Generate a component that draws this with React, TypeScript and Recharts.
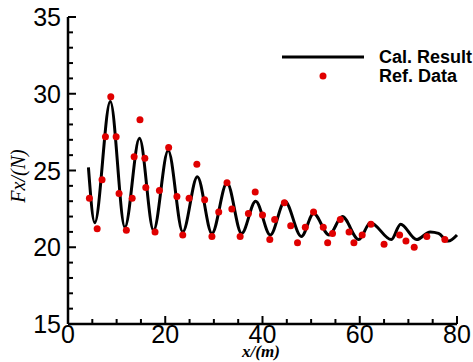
import React from 'react';
import { ComposedChart, Line, Scatter, XAxis, YAxis, Legend, ReferenceLine } from 'recharts';

// Cal. Result curve (x in m, Fx in N), read at the turning points
const calX = [4.2, 5.5, 8.7, 11.7, 14.7, 17.6, 20.6, 23.6, 26.6, 29.6, 32.7, 35.7, 38.6, 41.6, 44.6, 48.0, 50.5, 53.7, 56.4, 59.8, 62.2, 66.5, 68.4, 71.7, 74.5, 76.2, 78.2, 80.0];
const calY = [25.2, 21.6, 29.5, 21.3, 27.1, 21.1, 26.3, 21.0, 24.6, 20.9, 24.2, 20.9, 23.0, 20.8, 23.0, 20.7, 22.2, 20.8, 22.0, 20.5, 21.6, 20.5, 21.5, 20.5, 21.0, 20.9, 20.4, 20.8];

// Ref. Data points
const refX = [4.4, 6.0, 7.0, 7.7, 8.8, 9.9, 10.5, 12.0, 13.2, 13.6, 14.8, 15.8, 16.0, 17.9, 18.8, 20.7, 22.4, 23.6, 24.9, 26.5, 28.1, 29.6, 31.0, 32.7, 33.7, 35.4, 37.1, 38.5, 40.0, 41.5, 42.5, 44.5, 45.8, 47.2, 48.8, 50.5, 52.5, 53.4, 54.4, 56.0, 57.8, 58.8, 60.5, 62.3, 65.0, 68.2, 69.5, 71.2, 73.8, 77.5];
const refY = [23.2, 21.2, 24.4, 27.2, 29.8, 27.2, 23.5, 21.1, 23.2, 25.9, 28.3, 25.8, 23.9, 21.0, 23.7, 26.5, 23.3, 20.8, 23.2, 25.4, 23.1, 20.7, 22.3, 24.2, 22.5, 20.7, 22.2, 23.6, 22.1, 20.5, 21.8, 22.9, 21.4, 20.3, 21.3, 22.3, 21.3, 20.3, 20.9, 21.8, 21.0, 20.3, 20.8, 21.5, 20.2, 20.8, 20.4, 20.0, 20.7, 20.5];

const xTicks = [0, 5, 10, 15, 20, 25, 30, 35, 40, 45, 50, 55, 60, 65, 70, 75, 80];
const yTicks = [15, 16, 17, 18, 19, 20, 21, 22, 23, 24, 25, 26, 27, 28, 29, 30, 31, 32, 33, 34, 35];

const calData = calX.map((x, i) => ({ x, y: calY[i] }));
const refData = refX.map((x, i) => ({ x, y: refY[i] }));

const SANS = 'Liberation Sans, Arial, sans-serif';
const SERIF = 'Liberation Serif, Times New Roman, serif';

function XTick(props: any) {
  const { x, y, payload } = props;
  const v = payload.value;
  const major = v % 20 === 0;
  return (
    <g>
      <line x1={x} x2={x} y1={y} y2={y - (major ? 8 : 5)} stroke="#000" strokeWidth={2} />
      {major && (
        <text x={x} y={y + 19} textAnchor="middle" fontSize={25} fontFamily={SANS} fill="#000">
          {v}
        </text>
      )}
    </g>
  );
}

function YTick(props: any) {
  const { x, y, payload } = props;
  const v = payload.value;
  const major = v % 5 === 0;
  return (
    <g>
      <line x1={x} x2={x + (major ? 8 : 5)} y1={y} y2={y} stroke="#000" strokeWidth={2} />
      {major && (
        <text x={x - 7} y={y + 9} textAnchor="end" fontSize={25} fontFamily={SANS} fill="#000">
          {v}
        </text>
      )}
    </g>
  );
}

function LegendBox(props: any) {
  const items = props.payload || [];
  return (
    <svg width={203} height={50} style={{ overflow: 'visible' }}>
      {items.map((it: any, i: number) => {
        const cy = 17 + i * 19;
        return (
          <g key={it.value}>
            {it.type === 'line' ? (
              <line x1={12} x2={94} y1={cy} y2={cy} stroke={it.color} strokeWidth={3} />
            ) : (
              <circle cx={53} cy={cy} r={3.5} fill={it.color} />
            )}
            <text x={109} y={cy + 6} fontSize={18} fontWeight="bold" fontFamily={SANS} fill="#000">
              {it.value}
            </text>
          </g>
        );
      })}
    </svg>
  );
}

export default function App() {
  return (
    <div style={{ position: 'absolute', left: 0, top: 0, background: '#fff' }}>
      <ComposedChart width={473} height={362} margin={{ top: 17, right: 16, bottom: 0, left: 0 }}>
        <XAxis
          type="number"
          dataKey="x"
          domain={[0, 80]}
          ticks={xTicks}
          interval={0}
          height={38}
          tickSize={0}
          tickMargin={0}
          tickLine={false}
          axisLine={false}
          tick={<XTick />}
          label={() => (
            <text x={261} y={357} textAnchor="middle" fontSize={17} fontWeight="bold" fontStyle="italic" fontFamily={SERIF} fill="#000">
              x/(m)
            </text>
          )}
        />
        <YAxis
          type="number"
          dataKey="y"
          domain={[15, 35]}
          ticks={yTicks}
          interval={0}
          width={68}
          tickSize={0}
          tickMargin={0}
          tickLine={false}
          axisLine={false}
          tick={<YTick />}
          label={() => (
            <text transform="translate(25,176) rotate(-90)" textAnchor="middle" fontSize={20} fontStyle="italic" fontFamily={SERIF} fill="#000">
              Fx/(N)
            </text>
          )}
        />
        <ReferenceLine x={0} stroke="#000" strokeWidth={2.5} ifOverflow="visible" />
        <ReferenceLine y={15} stroke="#000" strokeWidth={2.5} ifOverflow="visible" />
        <Legend
          layout="vertical"
          align="center"
          verticalAlign="middle"
          wrapperStyle={{ left: 270, top: 40, width: 203, height: 50 }}
          content={<LegendBox />}
        />
        <Line
          data={calData}
          dataKey="y"
          name="Cal. Result"
          type="monotone"
          stroke="#000"
          strokeWidth={3}
          dot={false}
          legendType="line"
          isAnimationActive={false}
        />
        <Scatter
          data={refData}
          dataKey="y"
          name="Ref. Data"
          fill="#e00000"
          shape={(p: any) => <circle cx={p.cx} cy={p.cy} r={3.5} fill="#e00000" />}
          legendType="circle"
          isAnimationActive={false}
        />
      </ComposedChart>
    </div>
  );
}
